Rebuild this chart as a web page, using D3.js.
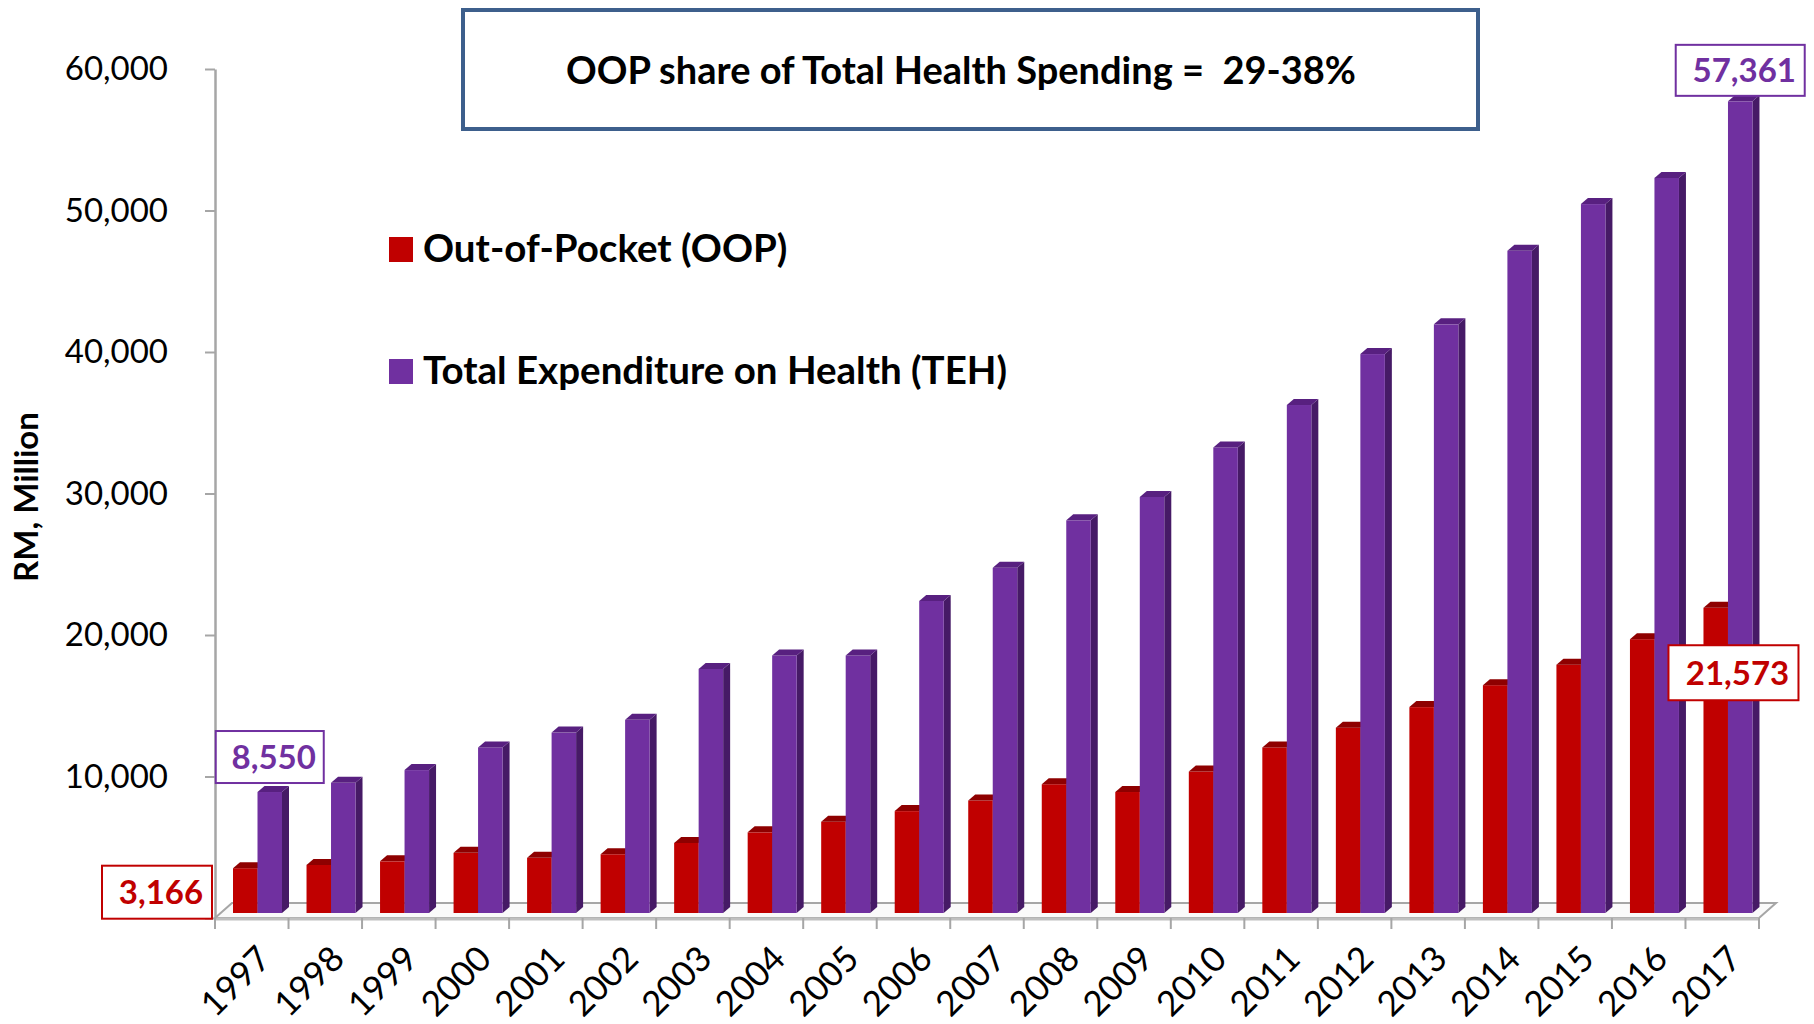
<!DOCTYPE html>
<html>
<head>
<meta charset="utf-8">
<script src="https://cdn.jsdelivr.net/npm/d3@7"></script>
<style>
  body { margin: 0; background: #fff; }
  svg text { font-family: Lato, "Open Sans", sans-serif; }
</style>
</head>
<body>
<div id="chart"></div>
<script>
//DATA
const years = ["1997","1998","1999","2000","2001","2002","2003","2004","2005","2006","2007",
  "2008","2009","2010","2011","2012","2013","2014","2015","2016","2017"];
const oop = [3166, 3400, 3650, 4250, 3900, 4150, 4950, 5700, 6450, 7200, 7950,
  9100, 8550, 10000, 11700, 13100, 14550, 16100, 17550, 19350, 21573];
const teh = [8550, 9200, 10100, 11700, 12750, 13650, 17250, 18200, 18200, 22050, 24400,
  27750, 29400, 32900, 35900, 39500, 41600, 46800, 50100, 51950, 57361];
const seriesKeys = ["OOP", "TEH"];
const seriesNames = ["Out-of-Pocket (OOP)", "Total Expenditure on Health (TEH)"];
const yTicks = [0, 10000, 20000, 30000, 40000, 50000, 60000];
const titleText = "OOP share of Total Health Spending =  29-38%";
const yTitle = "RM, Million";

//CONSTANTS
const width = 1814, height = 1024;
const colors = {
  OOP: {front: "#c00000", top: "#8e0000", side: "#7a0000"},
  TEH: {front: "#7030a0", top: "#582080", side: "#461a66"}
};
const depth = {dx: 7, dy: 6};
const floorDepth = {dx: 17, dy: 15};
const baseLift = 5;

const svg = d3.select("#chart")
  .append("svg")
  .attr("width", width)
  .attr("height", height)
  .style("background-color", "#fff");

//SCALES
const y = d3.scaleLinear().domain([0, 60000]).range([918, 69]);
const x = d3.scaleBand().domain(years).range([215, 1759]);
const xs = d3.scaleBand().domain(seriesKeys).range([18, 67]);

const rows = years.map((yr, i) => ({year: yr, OOP: oop[i], TEH: teh[i]}));

//FLOOR
const x0 = x.range()[0], x1 = x.range()[1], y0 = y(0);
svg.append("polygon")
  .attr("points", [[x0, y0], [x1, y0], [x1 + floorDepth.dx, y0 - floorDepth.dy], [x0 + floorDepth.dx, y0 - floorDepth.dy]].join(" "))
  .attr("fill", "#fafafa")
  .attr("stroke", "#a6a6a6")
  .attr("stroke-width", 2);
svg.append("line")
  .attr("x1", x0).attr("x2", x1).attr("y1", y0 + 1).attr("y2", y0 + 1)
  .attr("stroke", "#bfbfbf").attr("stroke-width", 3);

//X TICKS
svg.append("g")
  .selectAll("line")
  .data(years.map(d => x(d)).concat([x1]))
  .join("line")
  .attr("x1", d => d).attr("x2", d => d)
  .attr("y1", y0).attr("y2", y0 + 11)
  .attr("stroke", "#a6a6a6")
  .attr("stroke-width", 2);

//BARS
const bars = svg.append("g");
rows.forEach(r => {
  seriesKeys.forEach(k => {
    const bx = x(r.year) + xs(k), bw = xs.bandwidth();
    const top = y(r[k]) - baseLift, bottom = y(0) - baseLift;
    const c = colors[k];
    bars.append("polygon")
      .attr("points", [[bx + bw, bottom], [bx + bw + depth.dx, bottom - depth.dy], [bx + bw + depth.dx, top - depth.dy], [bx + bw, top]].join(" "))
      .attr("fill", c.side);
    bars.append("rect")
      .attr("x", bx).attr("y", top)
      .attr("width", bw).attr("height", bottom - top)
      .attr("fill", c.front);
    bars.append("polygon")
      .attr("points", [[bx, top], [bx + depth.dx, top - depth.dy], [bx + bw + depth.dx, top - depth.dy], [bx + bw, top]].join(" "))
      .attr("fill", c.top);
  });
});

//Y AXIS (zero label sits under the 3,166 callout, so it is left out)
const yAxis = svg.append("g")
  .attr("transform", `translate(${x0},0)`)
  .call(d3.axisLeft(y).tickValues(yTicks).tickFormat(d => d === 0 ? "" : d3.format(",")(d))
    .tickSize(10).tickSizeOuter(0).tickPadding(37));
yAxis.select(".domain").attr("stroke", "#a6a6a6").attr("stroke-width", 2.5);
yAxis.selectAll(".tick line").attr("stroke", "#a6a6a6").attr("stroke-width", 2);
yAxis.selectAll(".tick text")
  .attr("fill", "#000")
  .style("font-size", "33px")
  .style("font-family", "Lato, sans-serif");

//X LABELS
svg.append("g")
  .selectAll("text")
  .data(years)
  .join("text")
  .attr("transform", d => `translate(${x(d) + x.bandwidth() / 2 + 21},961) rotate(-45)`)
  .attr("text-anchor", "end")
  .attr("font-size", "35px")
  .text(d => d);

//Y TITLE
svg.append("text")
  .attr("transform", "translate(38,497) rotate(-90)")
  .attr("text-anchor", "middle")
  .attr("font-size", "33px")
  .attr("font-weight", "bold")
  .text(yTitle);

//TITLE BOX
svg.append("rect")
  .attr("x", 463).attr("y", 10)
  .attr("width", 1015).attr("height", 119)
  .attr("fill", "#fff")
  .attr("stroke", "#3d5f8c")
  .attr("stroke-width", 4);
svg.append("text")
  .attr("x", 961).attr("y", 84)
  .attr("text-anchor", "middle")
  .attr("font-size", "38px")
  .attr("font-weight", "bold")
  .style("white-space", "pre")
  .text(titleText);

//LEGEND
const legend = svg.append("g");
seriesKeys.forEach((k, i) => {
  const ly = 237 + i * 122;
  legend.append("rect")
    .attr("x", 389).attr("y", ly)
    .attr("width", 24).attr("height", 25)
    .attr("fill", colors[k].front);
  legend.append("text")
    .attr("x", 423).attr("y", ly + 25)
    .attr("font-size", "38.5px")
    .attr("font-weight", "bold")
    .text(seriesNames[i]);
});

//VALUE CALLOUTS
const first = rows[0], last = rows[rows.length - 1];
const callouts = [
  {key: "TEH", v: first.TEH, cx: x(first.year) + xs("TEH") + xs.bandwidth() / 2, cy: y(first.TEH) - baseLift - 35, w: 108, h: 52},
  {key: "OOP", v: first.OOP, cx: x(first.year) - 58, cy: y(first.OOP) - baseLift + 24, w: 110, h: 53},
  {key: "TEH", v: last.TEH, cx: x(last.year) + xs("TEH") + xs.bandwidth() / 2, cy: y(last.TEH) - baseLift - 31, w: 129, h: 51},
  {key: "OOP", v: last.OOP, cx: x(last.year) + xs("OOP") + 30, cy: y(last.OOP) - baseLift + 65, w: 130, h: 55}
];
callouts.forEach(c => {
  svg.append("rect")
    .attr("x", c.cx - c.w / 2).attr("y", c.cy - c.h / 2)
    .attr("width", c.w).attr("height", c.h)
    .attr("fill", "#fff")
    .attr("stroke", colors[c.key].front)
    .attr("stroke-width", 2);
  svg.append("text")
    .attr("x", c.cx + 4).attr("y", c.cy + 12)
    .attr("text-anchor", "middle")
    .attr("font-size", "33px")
    .attr("font-weight", "bold")
    .attr("fill", colors[c.key].front)
    .text(d3.format(",")(c.v));
});
</script>
</body>
</html>
